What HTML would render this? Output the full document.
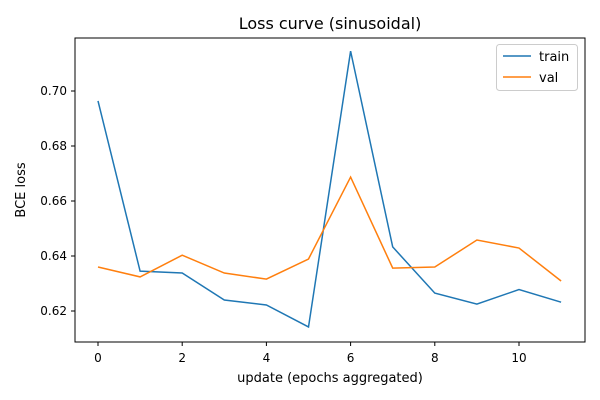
<!DOCTYPE html>
<html>
<head>
<meta charset="utf-8">
<style>
  html, body { margin: 0; padding: 0; background: #fff; }
  svg { display: block; font-family: "DejaVu Sans", "Liberation Sans", sans-serif; }
</style>
</head>
<body>
<svg id="chart" width="600" height="400" viewBox="0 0 600 400">
  <rect width="600" height="400" fill="#fff"/>
  <text x="330" y="29" text-anchor="middle" font-size="16" fill="#000">Loss curve (sinusoidal)</text>
  <g id="axes"></g>
  <g id="series"></g>
  <rect x="75" y="38" width="510" height="304" fill="none" stroke="#000" stroke-width="1"/>
  <text x="330" y="382" text-anchor="middle" font-size="13">update (epochs aggregated)</text>
  <text x="25" y="190" text-anchor="middle" font-size="13" transform="rotate(-90 25 190)">BCE loss</text>
  <g>
    <rect x="496.5" y="44.5" width="81" height="46" rx="3" fill="#fff" stroke="#ccc"/>
    <line x1="503" y1="56" x2="531" y2="56" stroke="#1f77b4" stroke-width="1.5"/>
    <text x="539" y="61" font-size="13">train</text>
    <line x1="503" y1="77" x2="531" y2="77" stroke="#ff7f0e" stroke-width="1.5"/>
    <text x="539" y="82" font-size="13">val</text>
  </g>
</svg>
<script>
const categories = [0,1,2,3,4,5,6,7,8,9,10,11];
const trainValues = [0.6964,0.6345,0.6338,0.6240,0.6222,0.6142,0.7145,0.6433,0.6265,0.6225,0.6278,0.6232];
const valValues = [0.6360,0.6324,0.6403,0.6338,0.6316,0.6389,0.6687,0.6356,0.6360,0.6458,0.6429,0.6309];
const xTicks = [0,2,4,6,8,10];
const yTicks = [0.62,0.64,0.66,0.68,0.70];
const yTickLabels = ["0.62","0.64","0.66","0.68","0.70"];

const NS = "http://www.w3.org/2000/svg";
function xScale(v){ return 98 + v * 42.1; }
function yScale(v){ return 311 - (v - 0.62) / 0.02 * 55; }

const axes = document.getElementById('axes');
xTicks.forEach(function(t){
  const x = xScale(t);
  const l = document.createElementNS(NS,'line');
  l.setAttribute('x1',x); l.setAttribute('x2',x); l.setAttribute('y1',342); l.setAttribute('y2',346);
  l.setAttribute('stroke','#000');
  
  
  axes.appendChild(l);
  const tx = document.createElementNS(NS,'text');
  tx.setAttribute('x',x); tx.setAttribute('y',362); tx.setAttribute('text-anchor','middle'); tx.setAttribute('font-size','12');
  tx.textContent = String(t);
  
  
  axes.appendChild(tx);
});
yTicks.forEach(function(t,i){
  const y = yScale(t);
  const l = document.createElementNS(NS,'line');
  l.setAttribute('x1',71); l.setAttribute('x2',75); l.setAttribute('y1',y); l.setAttribute('y2',y);
  l.setAttribute('stroke','#000');
  
  
  axes.appendChild(l);
  const tx = document.createElementNS(NS,'text');
  tx.setAttribute('x',67); tx.setAttribute('y',y+4); tx.setAttribute('text-anchor','end'); tx.setAttribute('font-size','12');
  tx.textContent = yTickLabels[i];
  
  
  axes.appendChild(tx);
});

const series = document.getElementById('series');
function drawLine(vals, color, name){
  const p = document.createElementNS(NS,'polyline');
  p.setAttribute('points', categories.map(function(c,i){ return xScale(c)+','+yScale(vals[i]); }).join(' '));
  p.setAttribute('fill','none'); p.setAttribute('stroke',color); p.setAttribute('stroke-width','1.5');
  
  
  series.appendChild(p);
}
drawLine(trainValues,'#1f77b4','train-line');
drawLine(valValues,'#ff7f0e','val-line');
</script>
</body>
</html>
